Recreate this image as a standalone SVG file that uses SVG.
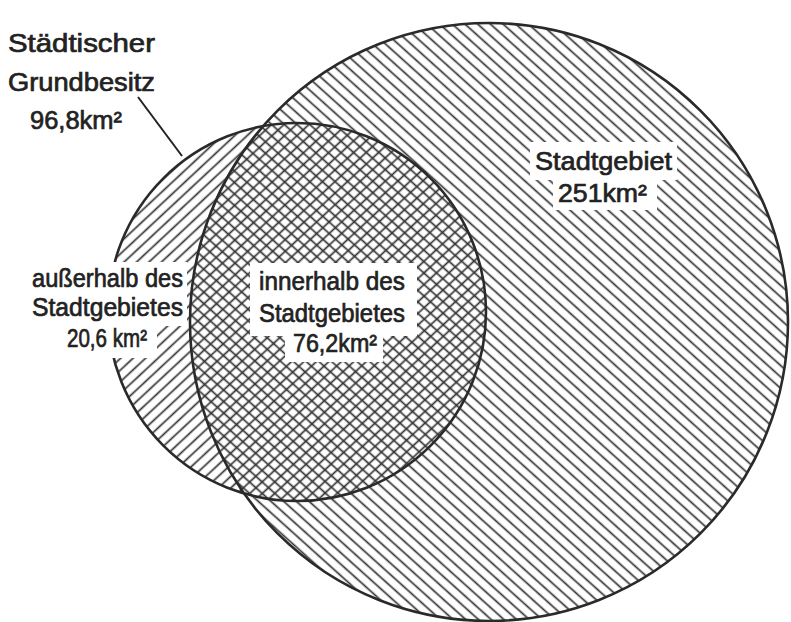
<svg xmlns="http://www.w3.org/2000/svg" width="791" height="622" viewBox="0 0 791 622">
<style>
.t{font-family:"Liberation Sans","DejaVu Sans",sans-serif;fill:#222;stroke:#222;stroke-width:0.7;font-size:26px}
.o{fill:none;stroke:#2a2a2a;stroke-width:2.6}
.w{fill:#fff}
</style>
<defs>
<pattern id="hb" patternUnits="userSpaceOnUse" width="8.5" height="8.5" patternTransform="rotate(42)">
<line x1="0" y1="4.25" x2="8.5" y2="4.25" stroke="#333" stroke-width="1.7"/>
</pattern>
<pattern id="hs" patternUnits="userSpaceOnUse" width="8.5" height="8.5" patternTransform="rotate(-43)">
<line x1="0" y1="4.25" x2="8.5" y2="4.25" stroke="#333" stroke-width="1.7"/>
</pattern>
</defs>
<rect width="791" height="622" fill="#fff"/>
<g id="stadtgebiet">
<circle cx="489" cy="322" r="299" fill="url(#hb)"/>
</g>
<g id="grundbesitz">
<circle cx="297" cy="312" r="189" fill="url(#hs)"/>
</g>
<g id="outlines">
<circle class="o" cx="489" cy="322" r="299"/>
<circle class="o" cx="297" cy="312" r="189"/>
</g>
<g id="connectors">
<line x1="138" y1="97" x2="182" y2="156" stroke="#222" stroke-width="2"/>
</g>
<g id="label-grundbesitz">
<text class="t" x="8" y="52" textLength="147" lengthAdjust="spacingAndGlyphs" font-size="28">Städtischer</text>
<text class="t" x="8" y="91" textLength="147" lengthAdjust="spacingAndGlyphs" font-size="28">Grundbesitz</text>
<text class="t" x="30" y="129" textLength="92" lengthAdjust="spacingAndGlyphs" font-size="28">96,8km²</text>
</g>
<g id="label-ausserhalb">
<rect class="w" x="28" y="262" width="159" height="64"/>
<rect class="w" x="60" y="325" width="97" height="33"/>
<text class="t" x="32" y="287" textLength="151" lengthAdjust="spacingAndGlyphs">außerhalb des</text>
<text class="t" x="32" y="316" textLength="151" lengthAdjust="spacingAndGlyphs">Stadtgebietes</text>
<text class="t" x="67" y="347" textLength="80" lengthAdjust="spacingAndGlyphs">20,6 km²</text>
</g>
<g id="label-innerhalb">
<rect class="w" x="250" y="263" width="167" height="73"/>
<rect class="w" x="285" y="335" width="98" height="27"/>
<text class="t" x="259" y="290" textLength="146" lengthAdjust="spacingAndGlyphs">innerhalb des</text>
<text class="t" x="259" y="322" textLength="146" lengthAdjust="spacingAndGlyphs">Stadtgebietes</text>
<text class="t" x="293" y="352" textLength="84" lengthAdjust="spacingAndGlyphs">76,2km²</text>
</g>
<g id="label-stadtgebiet">
<rect class="w" x="530" y="142" width="147" height="38"/>
<rect class="w" x="553" y="179" width="104" height="31"/>
<text class="t" x="535" y="170" textLength="137" lengthAdjust="spacingAndGlyphs" font-size="27">Stadtgebiet</text>
<text class="t" x="558" y="202" textLength="89" lengthAdjust="spacingAndGlyphs" font-size="27">251km²</text>
</g>
</svg>
